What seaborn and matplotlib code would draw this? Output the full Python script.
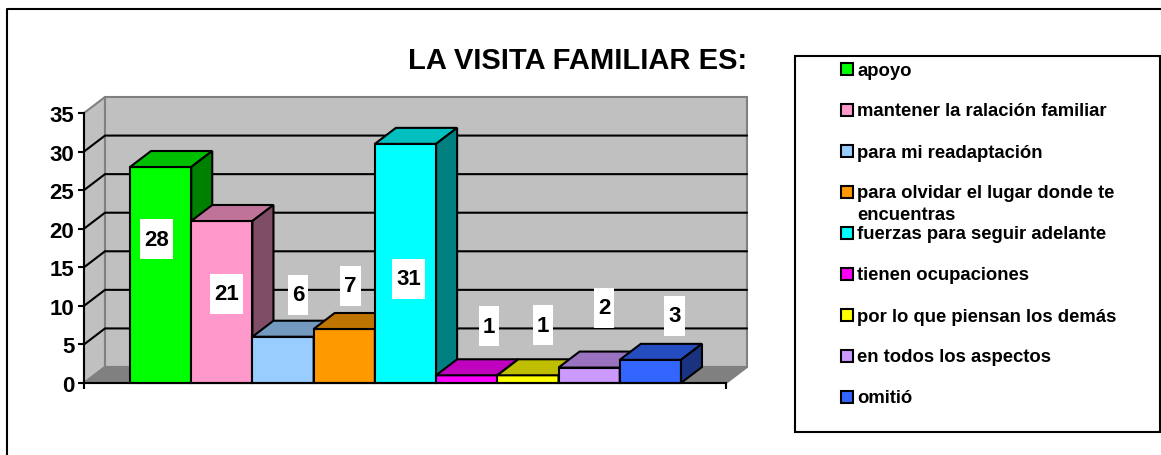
import numpy as np
import pandas as pd
import matplotlib
matplotlib.use('Agg')
import matplotlib.pyplot as plt
import seaborn as sns
from matplotlib.colors import to_rgb
from matplotlib.lines import Line2D
from matplotlib.patches import Rectangle
from matplotlib.path import Path

# Data
categories = ['apoyo', 'mantener la ralación familiar', 'para mi readaptación',
              'para olvidar el lugar donde te\nencuentras', 'fuerzas para seguir adelante',
              'tienen ocupaciones', 'por lo que piensan los demás',
              'en todos los aspectos', 'omitió']
values = [28, 21, 6, 7, 31, 1, 1, 2, 3]
y_ticks = [0, 5, 10, 15, 20, 25, 30, 35]
title = 'LA VISITA FAMILIAR ES:'

# Styles
bar_colors = ['#00FF00', '#FF99CC', '#99CCFF', '#FF9900', '#00FFFF',
              '#FF00FF', '#FFFF00', '#CC99FF', '#3366FF']
# where each value label sits relative to the top centre of its bar, in pixels
label_dx = [-4, 5, 15, 6, 3, 22, 15, 15, 24]
label_dy = [-72, -73, 42, 43, -135, 49, 50, 60, 44]

W, H = 1161, 456
LW = 1.5


def label_box(x0, y0, width, height, mutation_size):
    # white label box, wider padding up and down than at the sides
    cy = y0 + height / 2
    left, right = x0 - 4, x0 + width + 4
    low, high = cy - 20, cy + 20
    return Path([(left, low), (right, low), (right, high), (left, high), (left, low)], closed=True)


sns.set_theme(style='white')
plt.rcParams['font.family'] = ['Liberation Sans', 'DejaVu Sans']
plt.rcParams['font.weight'] = 'bold'

fig = plt.figure(figsize=(W / 100, H / 100), dpi=100)

# Plot axes: its box is the front floor edge and the front of the value axis
ax_left, ax_right, ax_bottom, ax_top = 84, 726, 384, 114
ax = fig.add_axes([ax_left / W, 1 - ax_bottom / H,
                   (ax_right - ax_left) / W, (ax_bottom - ax_top) / H])
ax.patch.set_alpha(0)

df = pd.DataFrame({'categoria': categories, 'valor': values})
sns.barplot(data=df, x='categoria', y='valor', hue='categoria', palette=bar_colors,
            dodge=False, width=1.0, saturation=1, legend=False, ax=ax,
            edgecolor='black', linewidth=LW)

ymax = y_ticks[-1]
bar_w_px = 61.2
xmin = -0.5 - (130 - ax_left) / bar_w_px
xmax = 8.5 + (ax_right - 681) / bar_w_px
ax.set_xlim(xmin, xmax)
ax.set_ylim(0, ymax)

# Depth of the 3D effect, in data units
px_per_val = (ax_bottom - ax_top) / ymax
depth_x = 21 / bar_w_px
depth_y = 16 / px_per_val

# Walls and floor
wall_kw = dict(clip_on=False, edgecolor='#808080', linewidth=LW, zorder=1)
ax.fill([xmin, xmin + depth_x, xmin + depth_x, xmin],
        [0, depth_y, ymax + depth_y, ymax], facecolor='#C0C0C0', **wall_kw)
ax.fill([xmin + depth_x, xmax + depth_x, xmax + depth_x, xmin + depth_x],
        [depth_y, depth_y, ymax + depth_y, ymax + depth_y], facecolor='#C0C0C0', **wall_kw)
ax.fill([xmin, xmax, xmax + depth_x, xmin + depth_x],
        [0, 0, depth_y, depth_y], facecolor='#808080', **wall_kw)

# Gridlines run along the side wall and then the back wall
for t in y_ticks[1:-1]:
    ax.plot([xmin, xmin + depth_x, xmax + depth_x], [t, t + depth_y, t + depth_y],
            color='black', lw=LW, clip_on=False, zorder=2, solid_joinstyle='miter')

# Bars: top and side faces are darker shades of the front colour
for i, (patch, v) in enumerate(zip(ax.patches, values)):
    x0 = patch.get_x()
    x1 = x0 + patch.get_width()
    rgb = np.array(to_rgb(bar_colors[i]))
    patch.set_zorder(10 + i)
    face_kw = dict(edgecolor='black', linewidth=LW, zorder=10 + i, clip_on=False,
                   joinstyle='miter')
    ax.fill([x0, x1, x1 + depth_x, x0 + depth_x], [v, v, v + depth_y, v + depth_y],
            facecolor=rgb * 0.75, **face_kw)
    ax.fill([x1, x1 + depth_x, x1 + depth_x, x1], [0, depth_y, v + depth_y, v],
            facecolor=rgb * 0.5, **face_kw)
    patch.set_clip_on(False)

# Value labels on white boxes
for i, v in enumerate(values):
    ax.annotate(str(v), xy=(i, v), xytext=(label_dx[i], label_dy[i]),
                textcoords='offset pixels', ha='center', va='center',
                fontsize=16, fontweight='bold', color='black', zorder=40,
                annotation_clip=False,
                bbox=dict(boxstyle=label_box, facecolor='white', edgecolor='none'))

# Axes lines and ticks
sns.despine(ax=ax, top=True, right=True)
for side in ['left', 'bottom']:
    ax.spines[side].set_color('black')
    ax.spines[side].set_linewidth(LW)
    ax.spines[side].set_zorder(30)
ax.set_xlabel('')
ax.set_ylabel('')
ax.set_xticks([xmin, xmax])
ax.set_xticklabels([])
ax.set_yticks(y_ticks)
ax.set_yticklabels([str(t) for t in y_ticks], fontsize=16, fontweight='bold', color='black')
ax.tick_params(axis='both', which='major', left=True, bottom=True, length=4,
               width=LW, color='black', pad=3)

# Title
fig.text(747 / W, 1 - 61 / H, title, ha='right', va='center', fontsize=21,
         fontweight='bold', color='black')

# Outer frame, only left and top are visible
fig.add_artist(Line2D([7 / W, 7 / W, 1], [0, 1 - 10 / H, 1 - 10 / H], color='black', lw=1.5))

# Legend box
fig.add_artist(Rectangle((795 / W, 1 - 433 / H), 365 / W, 376 / H, transform=fig.transFigure,
                         facecolor='white', edgecolor='black', linewidth=1.5))
row_h = 41
for i, label in enumerate(categories):
    yc = 70 + i * row_h
    fig.add_artist(Rectangle((841 / W, 1 - (yc + 6) / H), 12 / W, 12 / H,
                             transform=fig.transFigure, facecolor=bar_colors[i],
                             edgecolor='black', linewidth=1.5))
    fig.text(857 / W, 1 - (yc - 7.5) / H, label, ha='left', va='top', fontsize=13.35,
             fontweight='bold', color='black', linespacing=1.36)

fig.savefig('out.png', dpi=100, facecolor='white')
